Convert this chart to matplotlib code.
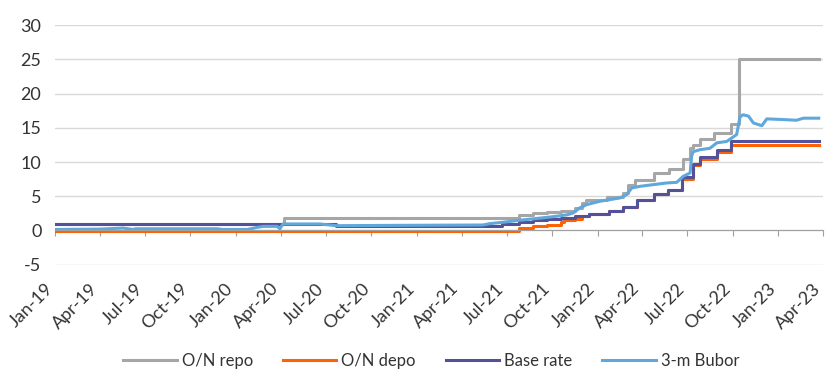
import numpy as np
import pandas as pd
import matplotlib
matplotlib.use('Agg')
import matplotlib.pyplot as plt
import matplotlib.dates as mdates
import matplotlib.transforms as mtransforms

plt.rcParams['font.family'] = ['Lato', 'DejaVu Sans']
plt.rcParams['axes.unicode_minus'] = False

# O/N repo (upper band), step series
repo_dates = ['2019-01-01', '2020-04-07', '2021-07-27', '2021-08-24', '2021-09-21', '2021-10-19',
              '2021-11-16', '2021-12-01', '2021-12-09', '2022-01-20', '2022-02-22', '2022-03-03',
              '2022-03-17', '2022-04-26', '2022-05-26', '2022-06-23', '2022-07-07', '2022-07-13',
              '2022-07-26', '2022-08-25', '2022-09-27', '2022-10-14', '2023-03-24']
repo_vals = [0.9, 1.85, 2.2, 2.5, 2.7, 2.85,
             3.3, 4.0, 4.4, 4.9, 5.5, 6.6,
             7.4, 8.4, 9.0, 10.4, 12.0, 12.5,
             13.3, 14.3, 15.5, 25.0, 25.0]

# O/N depo, step series
depo_dates = ['2019-01-01', '2021-07-27', '2021-08-24', '2021-09-21', '2021-10-19', '2021-10-26',
              '2021-11-16', '2021-11-30', '2021-12-14', '2022-01-25', '2022-02-22', '2022-03-22',
              '2022-04-26', '2022-05-24', '2022-06-21', '2022-07-12', '2022-07-26', '2022-08-30',
              '2022-09-27', '2023-03-24']
depo_vals = [-0.05, 0.35, 0.6, 0.85, 1.2, 1.5,
             1.7, 2.05, 2.4, 2.9, 3.4, 4.4,
             5.4, 5.9, 7.5, 9.5, 10.5, 11.5,
             12.5, 12.5]

# Base rate, step series
base_dates = ['2019-01-01', '2020-07-22', '2021-06-22', '2021-07-27', '2021-08-24', '2021-09-21',
              '2021-10-19', '2021-11-16', '2021-12-14', '2022-01-25', '2022-02-22', '2022-03-22',
              '2022-04-26', '2022-05-24', '2022-06-21', '2022-07-12', '2022-07-26', '2022-08-30',
              '2022-09-27', '2023-03-24']
base_vals = [0.9, 0.6, 0.9, 1.2, 1.5, 1.65,
             1.8, 2.1, 2.4, 2.9, 3.4, 4.4,
             5.4, 5.9, 7.75, 9.75, 10.75, 11.75,
             13.0, 13.0]

# 3-month BUBOR
bubor_dates = ['2019-01-01', '2019-04-01', '2019-05-18', '2019-06-07', '2019-06-12', '2019-11-24',
               '2019-12-04', '2020-01-24', '2020-02-13', '2020-02-25', '2020-03-24', '2020-03-30',
               '2020-04-05', '2020-06-19', '2020-07-23', '2020-11-27', '2021-05-14', '2021-05-28',
               '2021-06-24', '2021-07-28', '2021-08-24', '2021-10-01', '2021-10-31', '2021-11-13',
               '2021-11-26', '2021-12-10', '2022-01-06', '2022-01-26', '2022-02-15', '2022-03-01',
               '2022-03-11', '2022-03-28', '2022-04-24', '2022-05-21', '2022-06-10', '2022-06-23',
               '2022-07-07', '2022-07-10', '2022-07-13', '2022-07-27', '2022-08-16', '2022-08-30',
               '2022-09-19', '2022-10-09', '2022-10-16', '2022-10-22', '2022-11-02', '2022-11-12',
               '2022-11-29', '2022-12-09', '2023-01-11', '2023-02-07', '2023-02-21', '2023-03-24']
bubor_vals = [0.15, 0.2, 0.35, 0.15, 0.25, 0.25,
              0.15, 0.15, 0.45, 0.6, 0.6, 0.25,
              0.95, 0.95, 0.7, 0.75, 0.8, 1.0,
              1.2, 1.5, 1.7, 2.0, 2.28, 2.57,
              3.3, 3.78, 4.27, 4.51, 4.75, 5.24,
              6.21, 6.45, 6.7, 6.94, 7.03, 7.9,
              8.4, 10.8, 11.5, 11.8, 12.0, 12.8,
              13.0, 14.0, 16.6, 16.9, 16.7, 15.7,
              15.3, 16.3, 16.2, 16.1, 16.4, 16.4]

fig = plt.figure(figsize=(8.26, 3.78), dpi=100)
ax = fig.add_axes([0.067, 0.2997, 0.929, 0.634])

ax.plot(pd.to_datetime(repo_dates), repo_vals, drawstyle='steps-post', color='#A6A6A6', lw=2.2, label='O/N repo')
ax.plot(pd.to_datetime(depo_dates), depo_vals, drawstyle='steps-post', color='#FF6200', lw=2.2, label='O/N depo')
ax.plot(pd.to_datetime(base_dates), base_vals, drawstyle='steps-post', color='#525199', lw=2.2, label='Base rate')
ax.plot(pd.to_datetime(bubor_dates), bubor_vals, color='#60A8DC', lw=2.2, label='3-m Bubor')

ax.set_ylim(-5, 30)
ax.set_yticks(np.arange(-5, 31, 5))
ax.set_xlim(pd.Timestamp('2019-01-01'), pd.Timestamp('2023-04-01'))
ax.xaxis.set_major_locator(mdates.MonthLocator(bymonth=[1, 4, 7, 10]))
ax.xaxis.set_major_formatter(mdates.DateFormatter('%b-%y'))

ax.grid(axis='y', color='#D9D9D9', lw=1)
ax.set_axisbelow(True)
for s in ['left', 'right', 'top']:
    ax.spines[s].set_visible(False)
ax.spines['bottom'].set_position(('data', 0))
ax.spines['bottom'].set_color('#A0A0A0')
ax.tick_params(axis='y', length=0, pad=10, labelsize=13, labelcolor='#333333')
ax.tick_params(axis='x', length=4, color='#A0A0A0', direction='out', pad=36, labelsize=13, labelcolor='#333333')

# rotated date labels, nudged a little left so the last one stays inside
shift = mtransforms.ScaledTranslation(-5 / 100, 0, fig.dpi_scale_trans)
for lab in ax.get_xticklabels():
    lab.set_rotation(45)
    lab.set_ha('right')
    lab.set_va('center')
    lab.set_rotation_mode('anchor')
    lab.set_transform(lab.get_transform() + shift)

fig.legend(loc='center', bbox_to_anchor=(0.522, 0.045), ncol=4, frameon=False, fontsize=12,
           handlelength=3.2, handletextpad=0.3, columnspacing=1.8, labelcolor='#333333')

fig.savefig('out.png', dpi=100)
